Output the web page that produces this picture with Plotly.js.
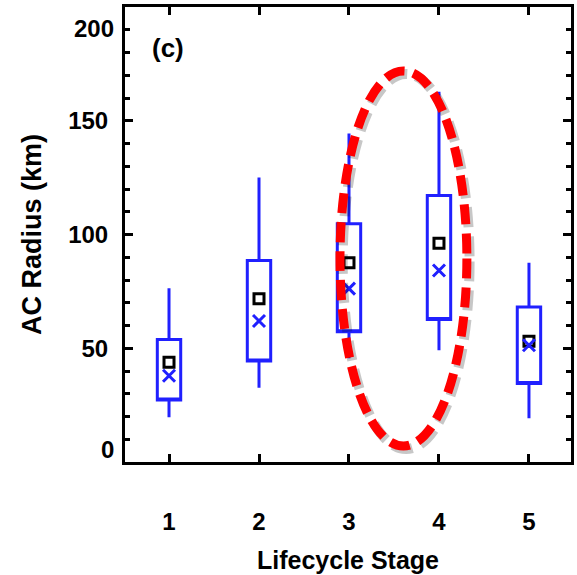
<!DOCTYPE html>
<html>
<head>
<meta charset="utf-8">
<script src="https://cdn.plot.ly/plotly-3.0.1.min.js"></script>
<style>html,body{margin:0;padding:0;background:#fff;}#chart{width:577px;height:575px;}</style>
</head>
<body>
<div id="chart"></div>
<script>
// Data
var stages = [1, 2, 3, 4, 5];
var stageLabels = ['1', '2', '3', '4', '5'];
var whiskerLow = [19.7, 32.6, 45.6, 49.1, 19.2];
var q1 = [27.2, 44.4, 57.2, 62.6, 34.5];
var q3 = [53.9, 88.6, 104.7, 117.1, 68.1];
var whiskerHigh = [76.4, 125.1, 144.4, 162.7, 87.6];
var meanVals = [43.8, 71.8, 87.6, 96.2, 53.1];
var medianVals = [37.9, 62.0, 76.2, 84.2, 51.3];
var yTickVals = [0, 50, 100, 150, 200];
var yTickText = ['', '50', '100', '150', ''];

var blue = 'rgb(32,32,255)';
var fontFam = '"Liberation Sans", Arial, sans-serif';

var traces = [
  {
    type: 'box',
    x: stages,
    q1: q1,
    median: q1,
    q3: q3,
    lowerfence: whiskerLow,
    upperfence: whiskerHigh,
    width: 0.26,
    whiskerwidth: 0,
    boxpoints: false,
    fillcolor: 'rgba(255,255,255,1)',
    line: {color: blue, width: 3},
    hoverinfo: 'skip',
    showlegend: false
  },
  {
    type: 'scatter', mode: 'markers',
    x: stages, y: meanVals,
    marker: {symbol: 'square-open', size: 10, color: 'black', line: {width: 3, color: 'black'}},
    showlegend: false
  },
  {
    type: 'scatter', mode: 'markers',
    x: stages, y: medianVals,
    marker: {symbol: 'x-thin-open', size: 12, color: blue, line: {width: 3, color: blue}},
    showlegend: false
  }
];

var layout = {
  width: 577, height: 575,
  margin: {l: 125, r: 6, t: 7, b: 113},
  paper_bgcolor: 'white', plot_bgcolor: 'white',
  font: {family: fontFam, size: 24, color: 'black', weight: 'bold'},
  xaxis: {
    range: [0.511, 5.467],
    tickvals: stages, ticktext: stageLabels,
    showgrid: false, zeroline: false,
    showline: true, linewidth: 3, linecolor: 'black', mirror: 'ticks',
    ticks: 'inside', ticklen: 8, tickwidth: 3, tickcolor: 'black',
    ticklabelstandoff: 36,
    tickfont: {family: fontFam, size: 24, weight: 'bold'},
    title: {text: 'Lifecycle Stage', font: {family: fontFam, size: 25, weight: 'bold'}, standoff: 18},
    automargin: false
  },
  yaxis: {
    range: [0, 200],
    tickvals: yTickVals, ticktext: yTickText,
    showgrid: false, zeroline: false,
    showline: true, linewidth: 3, linecolor: 'black', mirror: 'ticks',
    ticks: 'inside', ticklen: 8, tickwidth: 3, tickcolor: 'black',
    minor: {dtick: 10, ticks: 'inside', ticklen: 5, tickwidth: 3, tickcolor: 'black', showgrid: false},
    ticklabelstandoff: 9,
    tickfont: {family: fontFam, size: 24, weight: 'bold'},
    title: {text: 'AC Radius (km)', font: {family: fontFam, size: 27, weight: 'bold'}, standoff: 19},
    automargin: false
  },
  annotations: [
    {text: '200', xref: 'paper', yref: 'y', x: 0, y: 200, xanchor: 'right', yanchor: 'top',
     xshift: -9, yshift: -6, showarrow: false, font: {family: fontFam, size: 24, weight: 'bold'}},
    {text: '0', xref: 'paper', yref: 'y', x: 0, y: 0, xanchor: 'right', yanchor: 'bottom',
     xshift: -9, yshift: -3, showarrow: false, font: {family: fontFam, size: 24, weight: 'bold'}},
    {text: '(c)', xref: 'x', yref: 'y', x: 0.99, y: 182, xanchor: 'center', yanchor: 'middle',
     showarrow: false, font: {family: fontFam, size: 26, weight: 'bold'}}
  ],
  shapes: [
    {type: 'circle', xref: 'x', yref: 'y', x0: 2.93, x1: 4.34, y0: 5.7, y1: 170.6,
     line: {color: 'rgba(0,0,0,0.22)', width: 10, dash: '20px,9px'}, layer: 'above'},
    {type: 'circle', xref: 'x', yref: 'y', x0: 2.9, x1: 4.31, y0: 7.0, y1: 171.9,
     line: {color: 'rgb(255,0,0)', width: 9, dash: '20px,9px'}, layer: 'above'}
  ]
};

Plotly.newPlot('chart', traces, layout, {displayModeBar: false, staticPlot: true});
</script>
</body>
</html>
